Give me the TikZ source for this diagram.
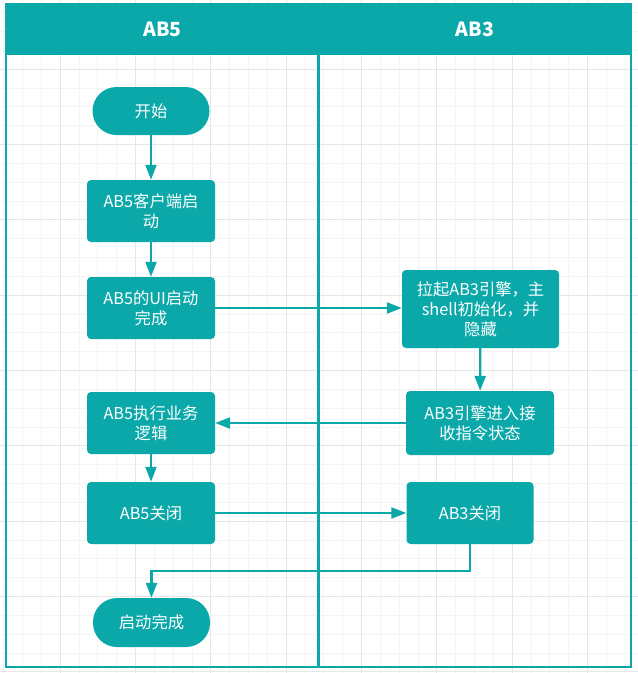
\documentclass[tikz,border=0pt]{standalone}
\usepackage{fontspec}
\setmainfont{Noto Sans CJK SC}
\usetikzlibrary{arrows.meta}
\definecolor{teal1}{RGB}{11,168,170}
\definecolor{gridminor}{RGB}{244,244,244}
\definecolor{gridmajor}{RGB}{230,230,230}
\begin{document}
\begin{tikzpicture}[x=1pt,y=-1pt,
  box/.style={fill=teal1, rounded corners=4pt, text=white, font=\fontsize{16.3}{20}\selectfont, align=center, inner sep=0pt},
  pill/.style={box, rounded corners=24pt},
  flow/.style={draw=teal1, line width=2.2pt, -{Triangle[length=15pt,width=11pt]}},
  lane/.style={draw=teal1, line width=2.5pt},
  head/.style={text=white, font=\fontsize{19.5}{22}\selectfont\bfseries}]
\useasboundingbox (0,0) rectangle (638,673);
\fill[white] (0,0) rectangle (638,673);
\begin{scope}
\clip (0,0) rectangle (638,673);
\foreach \i in {0,...,33} \draw[gridminor, line width=1pt] ({3.8+18.83*\i},0) -- ({3.8+18.83*\i},673);
\foreach \i in {0,...,35} \draw[gridminor, line width=1pt] (0,{12.8+18.83*\i}) -- (638,{12.8+18.83*\i});
\foreach \i in {0,...,8} \draw[gridmajor, line width=1pt] ({60.3+75.32*\i},0) -- ({60.3+75.32*\i},673);
\foreach \i in {0,...,8} \draw[gridmajor, line width=1pt] (0,{69.3+75.32*\i}) -- (638,{69.3+75.32*\i});
\end{scope}
% swimlanes
\fill[teal1] (5,3) rectangle (632.3,55);
\draw[lane] (6.2,55) -- (6.2,667) -- (631.2,667) -- (631.2,55);
\draw[lane] (318.7,55) -- (318.7,667);
\node[head] (h1) at (162.5,29) {AB5};
\node[head] (h2) at (475,29) {AB3};
% nodes
\node[pill, minimum width=117pt, minimum height=48pt] (s) at (151,111) {开始};
\node[box, minimum width=128pt, minimum height=62pt] (n1) at (151,211) {AB5客户端启\\动};
\node[box, minimum width=128pt, minimum height=62pt] (n2) at (151,308) {AB5的UI启动\\完成};
\node[box, minimum width=157pt, minimum height=78pt] (n3) at (480.5,309) {拉起AB3引擎，主\\shell初始化，并\\隐藏};
\node[box, minimum width=148pt, minimum height=64pt] (n4) at (480,423) {AB3引擎进入接\\收指令状态};
\node[box, minimum width=128pt, minimum height=62pt] (n5) at (151,423) {AB5执行业务\\逻辑};
\node[box, minimum width=128pt, minimum height=62pt] (n6) at (151,513) {AB5关闭};
\node[box, minimum width=127pt, minimum height=62pt] (n7) at (470,513) {AB3关闭};
\node[pill, minimum width=117pt, minimum height=49pt] (e) at (151.5,622.5) {启动完成};
% connectors
\coordinate (b1) at (470,571);
\coordinate (b2) at (151.5,571);
\draw[flow] (s) -- (n1);
\draw[flow] (n1) -- (n2);
\draw[flow] (n2.east) -- (n2.east -| n3.west);
\draw[flow] (n3) -- (n4);
\draw[flow] (n4) -- (n5);
\draw[flow] (n5) -- (n6);
\draw[flow] (n6) -- (n7);
\draw[flow] (n7.south) -- (b1) -- (b2) -- (e.north);
\end{tikzpicture}
\end{document}
